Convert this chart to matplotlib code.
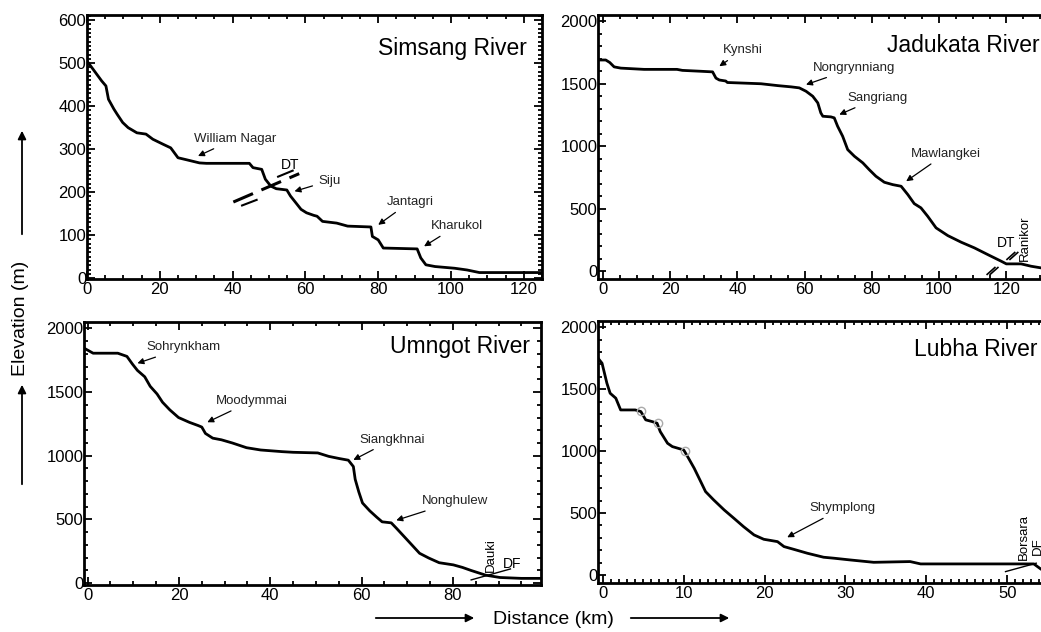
import matplotlib
matplotlib.use("Agg")
import matplotlib.pyplot as plt
from matplotlib.ticker import MultipleLocator

plt.rcParams['font.family'] = ['Liberation Sans', 'DejaVu Sans']

# river long profiles, distance (km) and elevation (m)
simsang_km = [0, 2, 4, 5.2, 5.9, 7.4, 8.3, 9.8, 11.3, 13.7, 16.2, 18.1, 21, 23, 25, 27, 30.9,
              32.8, 44.6, 45.6, 48, 49, 50.5, 52, 54.9, 55.9, 57.4, 58.8, 60.3, 62.3, 63.2,
              64.7, 68.6, 71.6, 78, 78.4, 80, 81.4, 90.7, 91.7, 93.1, 95.6, 101, 104.4,
              107.8, 125]
simsang_m = [505, 482, 459, 447, 416, 393, 381, 362, 350, 338, 335, 323, 311, 303, 280, 276, 268,
             267, 267, 257, 253, 230, 214, 208, 205, 191, 175, 160, 152, 146, 144,
             132, 128, 121, 119, 97, 89, 70, 68, 47, 31, 27, 23, 19,
             13, 13]

jadukata_km = [-1.5, 0.8, 2, 3.3, 5.3, 12.2, 22, 23.6, 29, 32.6, 33.6, 34.6, 36.5, 37, 47, 52,
               56, 58.4, 60.4, 62.4, 63.9, 64.8, 65.4, 67.8, 68.8, 69.8, 71.3, 72.8, 74.8,
               77.3, 79.2, 81.2, 83.7, 86.2, 88.7, 90.7, 92.6, 94.6, 96.6, 99.1, 102.6,
               106.6, 110.5, 114.5, 118.5, 120, 124.4, 127.4, 133]
jadukata_m = [1690, 1690, 1670, 1635, 1625, 1615, 1615, 1607, 1600, 1595, 1545, 1530, 1522, 1510, 1500, 1485,
              1475, 1467, 1440, 1400, 1347, 1267, 1240, 1235, 1227, 1160, 1080, 973, 920,
              867, 813, 760, 712, 693, 680, 613, 541, 507, 440, 347, 285,
              232, 187, 133, 80, 59, 59, 40, 15]

umngot_km = [-0.8, 1.2, 6.6, 8.6, 9.8, 10.9, 12.5, 13.7, 15.2, 16.4, 18, 19.9, 22.3, 24.2, 25,
             25.8, 27.4, 29.3, 31.7, 34.8, 37.9, 42.6, 45, 50.4, 52.8, 55.1, 57.1, 58.2,
             58.6, 59.4, 60.2, 61.8, 63.3, 64.5, 66.5, 67.6, 69.2, 70.8, 72.7, 74.7, 77,
             80.1, 82.1, 84, 87.2, 90.3, 95, 99.3]
umngot_m = [1845, 1805, 1805, 1780, 1720, 1670, 1620, 1545, 1485, 1420, 1360, 1300, 1262, 1237, 1225,
            1175, 1138, 1125, 1100, 1063, 1045, 1032, 1027, 1022, 995, 978, 965, 915,
            815, 715, 629, 567, 518, 481, 473, 432, 370, 308, 234, 197, 160,
            143, 123, 99, 62, 44, 37, 37]

lubha_km = [-0.6, -0.1, 0.5, 0.9, 1.6, 2.2, 4, 4.7, 5.3, 6.1, 6.7, 7.1, 8, 8.6, 10, 10.6, 11.3,
            12.1, 12.7, 13.7, 15, 16.2, 17.4, 18.7, 19.9, 21.6, 22.4, 23.6, 25.3, 27.3,
            28.6, 30.6, 33.5, 38, 39.3, 44.2, 53.3, 54.2, 55.3]
lubha_m = [1750, 1709, 1548, 1467, 1427, 1332, 1332, 1319, 1252, 1238, 1225, 1157, 1063, 1036, 1009,
           942, 861, 754, 673, 606, 525, 458, 390, 323, 288, 269, 229, 207, 175, 143,
           135, 121, 102, 108, 89, 89, 89, 46, 20]
lubha_knick_km = [4.7, 6.8, 10.2]
lubha_knick_m = [1320, 1230, 1000]

fig = plt.figure(figsize=(10.41, 6.32), dpi=100)
W, H = 1041.0, 632.0


def make_ax(l, t, r, b):
    return fig.add_axes([l / W, 1 - b / H, (r - l) / W, (b - t) / H])


def style(ax, xmaj, xmin, ymaj, ymin, right=True):
    ax.xaxis.set_major_locator(MultipleLocator(xmaj))
    ax.xaxis.set_minor_locator(MultipleLocator(xmin))
    ax.yaxis.set_major_locator(MultipleLocator(ymaj))
    ax.yaxis.set_minor_locator(MultipleLocator(ymin))
    ax.tick_params(which='both', direction='in', top=True, right=right, width=1.3,
                   labelsize=12, pad=2)
    ax.tick_params(which='major', length=6)
    ax.tick_params(which='minor', length=3)
    ax.tick_params(axis='y', pad=0.5)
    for s in ax.spines.values():
        s.set_linewidth(2)
    if not right:
        ax.spines['right'].set_visible(False)


def note(ax, txt, xy, xytext):
    ax.annotate(txt, xy=xy, xytext=xytext, fontsize=9.5, ha='center', va='center', color='#222222',
                arrowprops=dict(arrowstyle='-|>', color='k', lw=0.9, mutation_scale=9,
                                shrinkA=2, shrinkB=0))


line_kw = dict(color='k', lw=2.0)

# Simsang
ax1 = make_ax(87, 15, 542, 279)
ax1.plot(simsang_km, simsang_m, **line_kw)
ax1.set_xlim(0, 125)
ax1.set_ylim(-2, 612)
style(ax1, 20, 5, 100, 10)
ax1.text(0.967, 0.875, 'Simsang River', transform=ax1.transAxes, ha='right', va='center', fontsize=16.5)
note(ax1, 'William Nagar', (30.5, 284), (40.7, 324))
note(ax1, 'Siju', (57, 202), (66.5, 226))
note(ax1, 'Jantagri', (80, 124), (88.7, 177))
note(ax1, 'Kharukol', (92.6, 74), (101.5, 121))
ax1.text(55.9, 263, 'DT', fontsize=10, ha='center', va='center')
ax1.plot([40.2, 58.3], [177, 243], color='k', lw=2.2, dashes=(7, 3))
ax1.plot([42.6, 46.6], [169, 182], color='k', lw=1.5)
ax1.plot([52.5, 56.5], [236, 250], color='k', lw=1.5)

# Jadukata
ax2 = make_ax(598, 15, 1050, 279)
ax2.plot(jadukata_km, jadukata_m, **line_kw)
ax2.set_xlim(-1.5, 133)
ax2.set_ylim(-62, 2050)
style(ax2, 20, 5, 500, 100, right=False)
ax2.text(129.8, 1810, 'Jadukata River', ha='right', va='center', fontsize=16.5)
note(ax2, 'Kynshi', (34.6, 1640), (41.5, 1768))
note(ax2, 'Nongrynniang', (60.4, 1493), (74.8, 1627))
note(ax2, 'Sangriang', (70.3, 1253), (81.7, 1387))
note(ax2, 'Mawlangkei', (90.2, 720), (102, 941))
ax2.text(120, 227, 'DT', fontsize=10, ha='center', va='center')
ax2.text(125.6, 267, 'Ranikor', fontsize=9.5, rotation=90, ha='center', va='center')
for dx in (0, 0.9):
    ax2.plot([114.3 + dx, 116.6 + dx], [-25, 30], color='k', lw=1.2)
    ax2.plot([120.2 + dx, 122.5 + dx], [95, 150], color='k', lw=1.2)

# Umngot
ax3 = make_ax(84, 322, 541, 585)
ax3.plot(umngot_km, umngot_m, **line_kw)
ax3.set_xlim(-0.8, 99.3)
ax3.set_ylim(-15, 2050)
style(ax3, 20, 5, 500, 100)
ax3.text(0.975, 0.905, 'Umngot River', transform=ax3.transAxes, ha='right', va='center', fontsize=16.5)
note(ax3, 'Sohrynkham', (10.9, 1726), (21.1, 1850))
note(ax3, 'Moodymmai', (26.2, 1263), (36, 1430))
note(ax3, 'Siangkhnai', (58.2, 967), (66.8, 1127))
note(ax3, 'Nonghulew', (67.6, 493), (80.5, 641))
ax3.text(88.3, 222, 'Dauki', fontsize=9.5, rotation=90, ha='center', va='center')
ax3.text(93, 148, 'DF', fontsize=10, ha='center', va='center')
ax3.plot([84, 92.6], [25, 111], color='k', lw=1.0)

# Lubha
ax4 = make_ax(598, 321, 1050, 583)
ax4.plot(lubha_km, lubha_m, **line_kw)
ax4.plot(lubha_knick_km, lubha_knick_m, 'o', mfc='none', mec='#aaaaaa', ms=6, mew=1)
ax4.set_xlim(-0.6, 55.3)
ax4.set_ylim(-65, 2050)
style(ax4, 10, 1, 500, 100, right=False)
ax4.text(53.7, 1822, 'Lubha River', ha='right', va='center', fontsize=16.5)
note(ax4, 'Shymplong', (22.8, 304), (29.6, 538))
ax4.text(52.1, 310, 'Borsara', fontsize=9.5, rotation=90, ha='center', va='center')
ax4.text(53.8, 235, 'DF', fontsize=9.5, rotation=90, ha='center', va='center')
ax4.plot([49.8, 53.6], [27, 95], color='k', lw=1.0)

# shared axis labels with arrows
fig.text(21 / W, 1 - 318 / H, 'Elevation (m)', rotation=90, ha='center', va='center', fontsize=14)
arr = dict(arrowstyle='-|>', color='k', lw=1.3, mutation_scale=12)
ax1.annotate('', xy=(22 / W, 1 - 128 / H), xytext=(22 / W, 1 - 237 / H),
             xycoords='figure fraction', textcoords='figure fraction', arrowprops=arr)
ax1.annotate('', xy=(22 / W, 1 - 382 / H), xytext=(22 / W, 1 - 487 / H),
             xycoords='figure fraction', textcoords='figure fraction', arrowprops=arr)
fig.text(553 / W, 1 - 619 / H, 'Distance (km)', ha='center', va='center', fontsize=14)
ax1.annotate('', xy=(477 / W, 1 - 618 / H), xytext=(373 / W, 1 - 618 / H),
             xycoords='figure fraction', textcoords='figure fraction', arrowprops=arr)
ax1.annotate('', xy=(732 / W, 1 - 618 / H), xytext=(628 / W, 1 - 618 / H),
             xycoords='figure fraction', textcoords='figure fraction', arrowprops=arr)

fig.savefig('out.png', dpi=100)
